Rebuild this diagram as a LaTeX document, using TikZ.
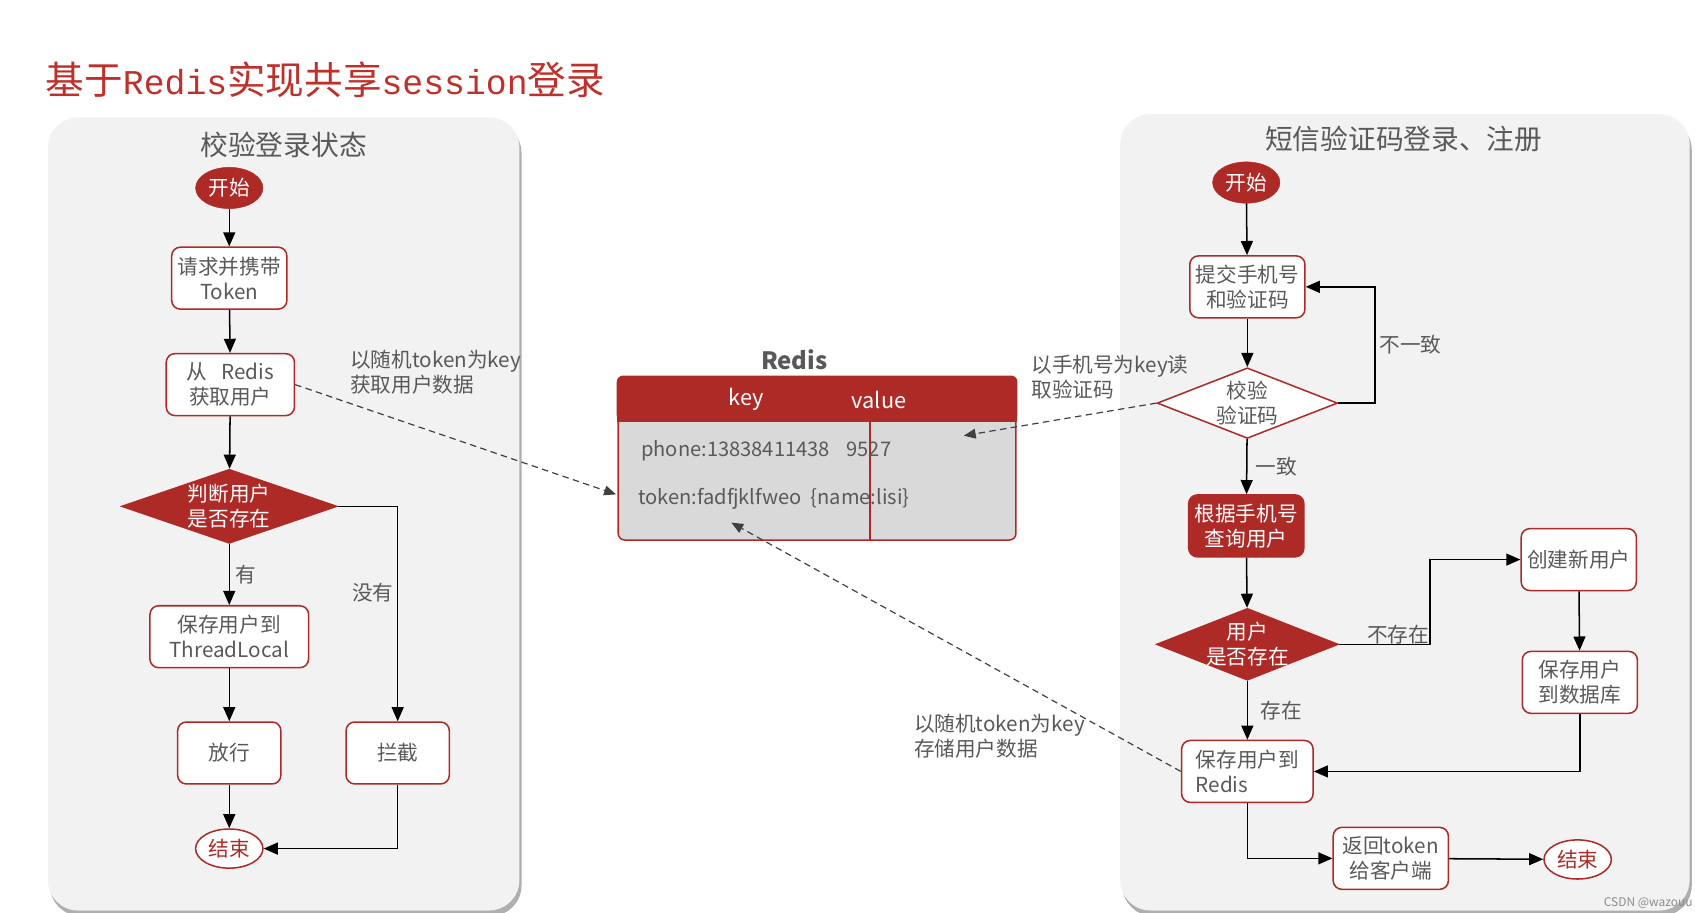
\documentclass[tikz,border=0pt]{standalone}
\usepackage{fontspec}
\setmainfont{Noto Sans CJK SC}
\newfontfamily\titlelatin{Liberation Mono}
\usepackage{tikz}
\usetikzlibrary{arrows.meta, shapes.geometric, positioning, shadows}
\definecolor{brandred}{HTML}{AD2A27}
\definecolor{titlered}{HTML}{C0302B}
\definecolor{txtgray}{HTML}{595959}
\definecolor{panelgray}{HTML}{F2F2F2}
\definecolor{cellgray}{HTML}{D9D9D9}
\definecolor{refgray}{HTML}{404040}
\newcommand{\boxfont}{\fontsize{19}{23}\selectfont}
\tikzset{
    panel/.style={fill=panelgray, rounded corners=28pt,
      drop shadow={shadow xshift=2pt, shadow yshift=-5pt, fill=black!35, opacity=0.9}},
    flowbox/.style={draw=brandred, fill=white, line width=1.4pt, rounded corners=8pt,
      minimum width=106pt, minimum height=57pt, align=center, text=txtgray, font=\boxfont, inner sep=2pt},
    startnode/.style={ellipse, fill=brandred, draw=brandred, text=white, minimum width=62pt,
      minimum height=38pt, inner sep=0pt, font=\boxfont},
    endnode/.style={ellipse, fill=white, draw=brandred, line width=1.4pt, text=brandred,
      minimum width=62pt, minimum height=36pt, inner sep=0pt, font=\boxfont},
    dia/.style={diamond, inner sep=0pt, line width=1.4pt},
    dialabel/.style={align=center, font=\boxfont, text=txtgray, inner sep=0pt},
    flow/.style={-{Triangle[length=13pt, width=11pt]}, line width=1.4pt, black},
    ref/.style={-{Triangle[length=11pt, width=9pt]}, dash pattern=on 6pt off 4pt, line width=1.1pt, refgray},
    lbl/.style={font=\boxfont, text=txtgray},
    note/.style={align=left, font=\boxfont, text=txtgray, inner sep=0pt, anchor=north west},
    cell/.style={font=\fontsize{18.5}{22}\selectfont, text=txtgray, inner sep=0pt, anchor=base west}
  }

\begin{document}
\begin{tikzpicture}[x=1pt, y=-1pt]
            \useasboundingbox (0,0) rectangle (1560,840);
            \node[anchor=west, inner sep=0pt, text=titlered, font=\fontsize{35.5}{40}\selectfont] (title) at (42,73) {基于{\titlelatin\fontsize{32}{40}\selectfont Redis}实现共享{\titlelatin\fontsize{32}{40}\selectfont session}登录};
            \path[panel] (44,108) rectangle (478,838);
            \path[panel] (1031,105) rectangle (1555,838);
            \node[text=txtgray, font=\fontsize{25.5}{30}\selectfont] (ltitle) at (261,133) {校验登录状态};
            \node[text=txtgray, font=\fontsize{25.5}{30}\selectfont] (rtitle) at (1292,128) {短信验证码登录、注册};

            \node[startnode] (lstart) at (211,173) {开始};
            \node[flowbox] (lreq) at (211,256) {请求并携带\\Token};
            \node[flowbox, minimum width=118pt] (lget) at (212,354) {从~~~Redis\\获取用户};
            \node[dia, fill=brandred, draw=brandred, minimum width=198pt, minimum height=68pt] (lcheck) at (211,466) {};
            \node[dialabel, text=white] (lchecktext) at (lcheck) {判断用户\\是否存在};
            \node[flowbox, minimum width=146pt] (lsave) at (211,586) {保存用户到\\ThreadLocal};
            \node[flowbox, minimum width=95pt] (lpass) at (211,693) {放行};
            \node[flowbox, minimum width=95pt] (lblock) at (366,693) {拦截};
            \node[endnode] (lend) at (211,781) {结束};
            \draw[flow] (lstart) -- (lreq);
            \draw[flow] (lreq) -- (lget);
            \draw[flow] (lget) -- (lcheck);
            \draw[flow] (lcheck) -- node[lbl, right, xshift=2pt] {有} (lsave);
            \draw[flow] (lcheck.east) -| node[lbl, left, pos=0.7] {没有} (lblock.north);
            \draw[flow] (lsave) -- (lpass);
            \draw[flow] (lpass) -- (lend);
            \draw[flow] (lblock.south) |- (lend.east);

            \node[font=\bfseries\fontsize{22}{26}\selectfont, text=txtgray] (redistitle) at (731,331) {Redis};
            \node[draw=brandred, fill=cellgray, line width=1.4pt, rounded corners=6pt, minimum width=366pt, minimum height=150pt, inner sep=0pt] (redis) at (752,422) {};
            \fill[brandred, rounded corners=6pt] ([xshift=-0.7pt, yshift=0.7pt]redis.north west) rectangle ([xshift=0.7pt, yshift=-42pt]redis.north east);
            \fill[brandred] ([xshift=-0.7pt, yshift=-30pt]redis.north west) rectangle ([xshift=0.7pt, yshift=-42pt]redis.north east);
            \draw[brandred, line width=1.8pt] ([xshift=49pt, yshift=-42pt]redis.north) -- ([xshift=49pt]redis.south);
            \node[text=white, font=\fontsize{20}{24}\selectfont] (keyhead) at (687,368) {key};
            \node[text=white, font=\fontsize{20}{24}\selectfont] (valuehead) at (809,368) {value};
            \node[cell] (phonekey) at (590,420) {phone:13838411438};
            \node[cell] (phonevalue) at (779,420) {9527};
            \node[cell] (tokenkey) at (587,464) {token:fadfjklfweo};
            \node[cell] (tokenvalue) at (746,464) {\{name:lisi\}};

            \node[startnode] (rstart) at (1147,168) {开始};
            \node[flowbox] (rsubmit) at (1148,264) {提交手机号\\和验证码};
            \node[dia, fill=white, draw=brandred, minimum width=166pt, minimum height=65pt] (rverify) at (1148,371) {};
            \node[dialabel] (rverifytext) at (rverify) {校验\\验证码};
            \node[flowbox, fill=brandred, text=white] (rquery) at (1147,484) {根据手机号\\查询用户};
            \node[dia, fill=brandred, draw=brandred, minimum width=167pt, minimum height=66pt] (rexist) at (1148,593) {};
            \node[dialabel, text=white] (rexisttext) at (rexist) {用户\\是否存在};
            \node[flowbox] (rcreate) at (1453,515) {创建新用户};
            \node[flowbox] (rsavedb) at (1454,628) {保存用户\\到数据库};
            \node[flowbox, minimum width=121pt, align=left] (rsaveredis) at (1148,710) {保存用户到\\Redis};
            \node[flowbox] (rreturn) at (1280,790) {返回token\\给客户端};
            \node[endnode] (rend) at (1452,791) {结束};
            \draw[flow] (rstart) -- (rsubmit);
            \draw[flow] (rsubmit) -- (rverify);
            \draw[flow] (rverify.east) -- ++(34,0) |- node[lbl, right, pos=0.25] {不一致} (rsubmit.east);
            \draw[flow] (rverify) -- node[lbl, right, xshift=4pt] {一致} (rquery);
            \draw[flow] (rquery) -- (rexist);
            \draw[flow] (rexist.east) -- node[lbl, above=-4pt, pos=0.65] {不存在} ++(84,0) |- (rcreate.west);
            \draw[flow] (rcreate) -- (rsavedb);
            \draw[flow] (rsavedb.south) |- (rsaveredis.east);
            \draw[flow] (rexist) -- node[lbl, right, xshift=8pt] {存在} (rsaveredis);
            \draw[flow] (rsaveredis.south) |- (rreturn.west);
            \draw[flow] (rreturn) -- (rend);

            \coordinate (redisin1) at (567,455);
            \coordinate (redisin2) at (887,401);
            \coordinate (redisin3) at (673,481);
            \draw[ref] (lget.east) -- (redisin1);
            \draw[ref] (rverify.west) -- (redisin2);
            \draw[ref] (rsaveredis.west) -- (redisin3);
            \node[note] (getnote) at (322,322) {以随机token为key\\获取用户数据};
            \node[note] (readnote) at (949,327) {以手机号为key读\\取验证码};
            \node[note] (storenote) at (841,657) {以随机token为key\\存储用户数据};
            \node[text=black!45, font=\fontsize{11}{13}\selectfont] (mark) at (1517,831) {CSDN @wazouu};
\end{tikzpicture}
\end{document}
